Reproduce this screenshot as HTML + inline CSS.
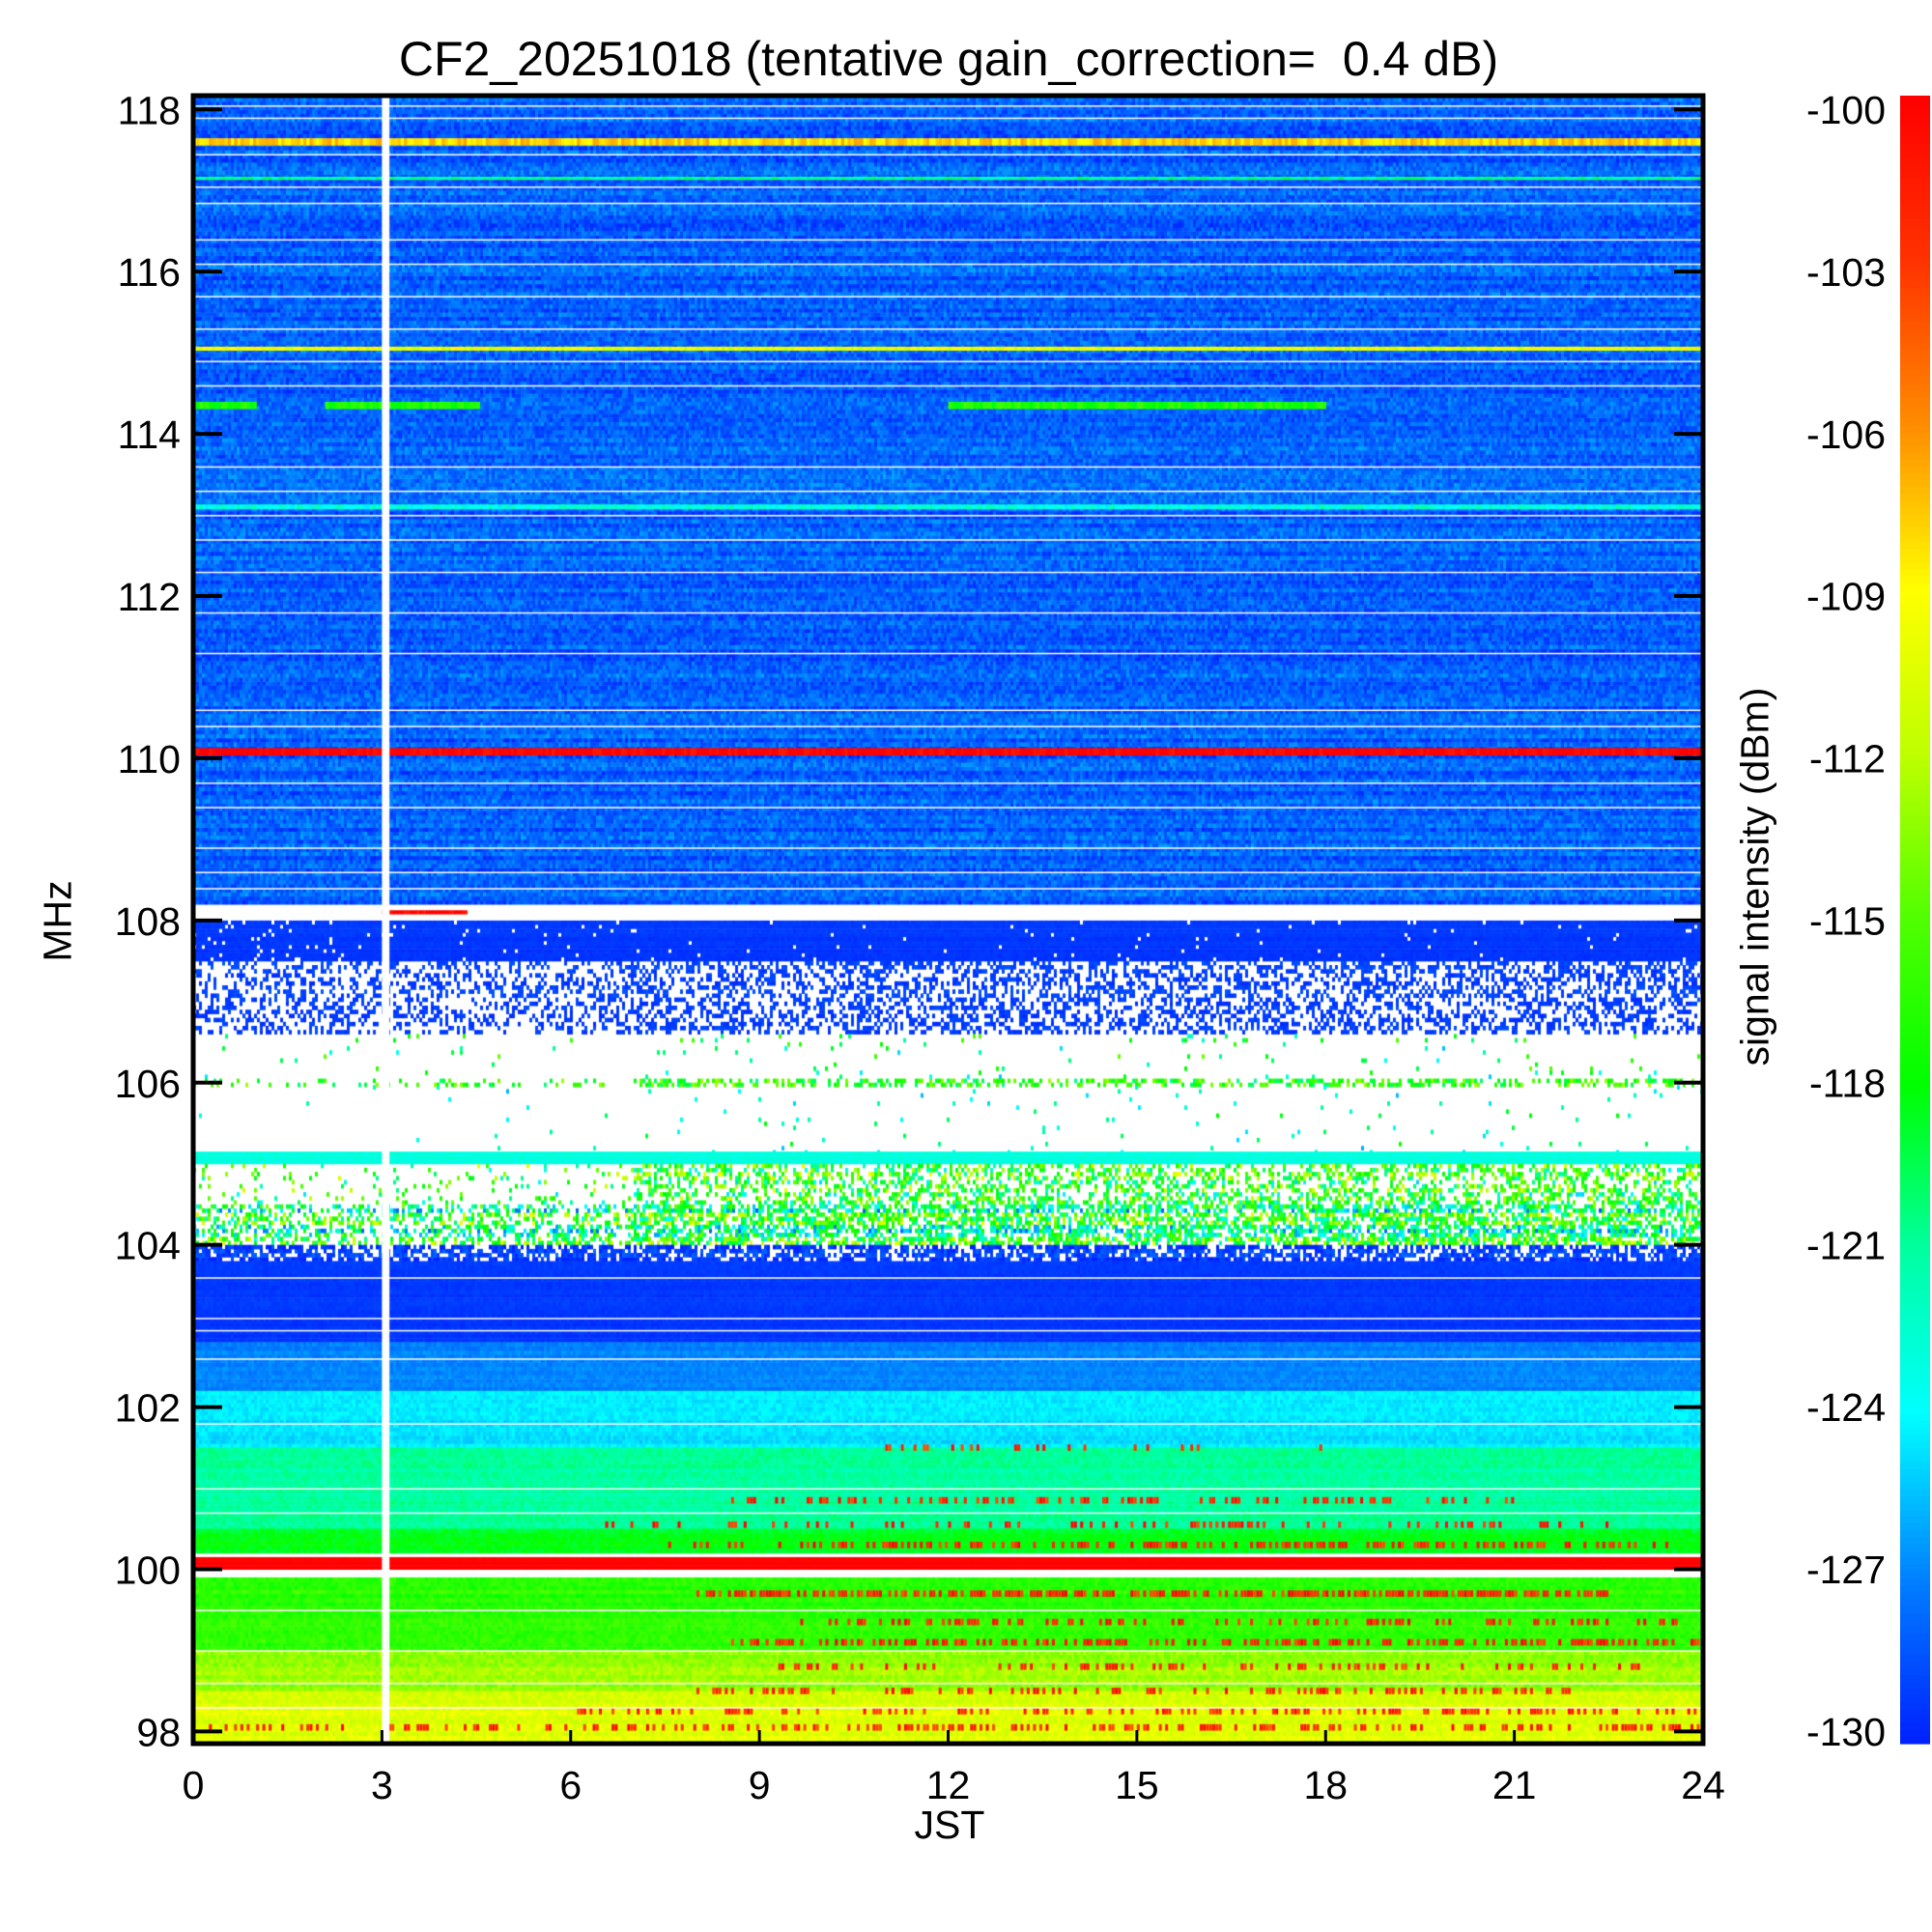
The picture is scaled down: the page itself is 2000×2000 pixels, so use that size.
<!DOCTYPE html>
<html><head><meta charset="utf-8"><style>
body{margin:0;background:#fff;}
#wrap{position:relative;width:2000px;height:2000px;font-family:"Liberation Sans",sans-serif;color:#000;}
.t{position:absolute;white-space:nowrap;}
</style></head><body>
<div id="wrap">
<div class="t" style="left:0;width:1964px;top:32px;text-align:center;font-size:50px;">CF2_20251018 (tentative gain_correction=&nbsp; 0.4 dB)</div>
<canvas id="hm" width="1563" height="1706" style="position:absolute;left:200px;top:99px;"></canvas>
<svg id="ax" width="2000" height="2000" style="position:absolute;left:0;top:0;"></svg>
<div class="t" style="left:933px;width:100px;text-align:center;top:1866px;font-size:41px;">JST</div>
<div class="t" style="left:10px;top:930px;width:100px;text-align:center;font-size:41px;transform:rotate(-90deg);">MHz</div>
<div class="t" style="left:1667px;top:930px;width:300px;text-align:center;font-size:41px;transform:rotate(-90deg);">signal intensity (dBm)</div>
</div>
<script>
// ---- data ----
const xTicks=[0,3,6,9,12,15,18,21,24];
const yTicks=[98,100,102,104,106,108,110,112,114,116,118];
const cbTicks=[-100,-103,-106,-109,-112,-115,-118,-121,-124,-127,-130];
// frequency bands (MHz) : low, high, level(dBm), noise amp, missing prob before 7h, missing prob after 7h
const bandLo   =[108.2,107.5,106.6,106.05,105.95,105.12,105.0,104.5,104.0,103.8,102.8,102.2,101.5,100.5,100.2,100.0,99.0,98.5,97.85];
const bandHi   =[118.17,108.0,107.5,106.6,106.05,105.95,105.12,105.0,104.5,104.0,103.8,102.8,102.2,101.5,100.5,100.15,99.9,99.0,98.5];
const bandLevel=[-128,-129.3,-129,-120,-116,-122,-123,-116,-119,-129,-129.3,-127,-124.5,-121,-118.5,-100,-116.5,-113,-110.5];
const bandNoise=[2.5,0.5,1,8,8,6,0.5,12,12,2,0.6,1,1.2,1.5,1.5,0.3,2,2,2];
const bandMiss =[0,0.05,0.65,0.99,0.8,0.995,0,0.9,0.55,0.3,0,0,0,0,0,0,0,0,0];
const bandMiss2=[0,0.02,0.55,0.97,0.5,0.985,0,0.55,0.35,0.3,0,0,0,0,0,0,0,0,0];
// narrow lines: freq, level, startHour, endHour
const lineFreq =[117.6,117.15,115.05,114.35,114.35,114.35,113.1,110.08,108.1];
const lineLevel=[-108,-121,-110,-117,-117,-117,-123,-100,-100];
const lineStart=[0,0,0,0,2.1,12,0,0,3.0];
const lineEnd  =[24,24,24,1.0,4.5,18,24,24,4.3];
const lineWidth=[0.09,0.04,0.05,0.09,0.09,0.09,0.06,0.09,0.05];
// red speckle rows in lower part: freq, startHour, endHour, probability
const spFreq =[101.5,100.85,100.55,100.3,99.7,99.35,99.1,98.8,98.5,98.25,98.05];
const spStart=[9,8.5,6.5,7.5,8,9.5,8.5,9,8,6,0];
const spEnd  =[18,21,22.5,23.5,22.5,24,24,23,22,24,24];
const spProb =[0.15,0.35,0.3,0.4,0.7,0.3,0.45,0.25,0.35,0.3,0.35];
const whiteGridFreq=[118.05,117.9,117.45,117.05,116.85,116.4,116.1,115.7,115.3,114.9,114.6,113.6,113.3,113.0,112.7,112.3,111.8,111.3,110.6,110.4,109.7,109.4,108.9,108.6,108.4,103.6,103.1,102.95,102.6,101.8,101.0,100.7,99.5,99.0,98.6,98.3];
// ---- axes ----
const PX0=200,PX1=1763,PY0=99,PY1=1805,FMIN=97.85,FMAX=118.17;
const xs=h=>PX0+(PX1-PX0)*h/24;
const ys=f=>PY0+(PY1-PY0)*(FMAX-f)/(FMAX-FMIN);
const cbY=v=>113+(1792-113)*(-100-v)/30;
const stops=[[-130,[0,32,255]],[-127,[0,128,255]],[-124,[0,255,255]],[-121,[0,255,160]],[-118,[0,255,0]],[-115,[80,255,0]],[-112,[190,255,0]],[-109,[255,255,0]],[-106,[255,140,0]],[-103,[255,50,0]],[-100,[255,0,0]]];
function cmap(v){v=Math.max(-130,Math.min(-100,v));for(let i=1;i<stops.length;i++){if(v<=stops[i][0]){const a=stops[i-1],b=stops[i],t=(v-a[0])/(b[0]-a[0]);return `rgb(${a[1].map((c,k)=>Math.round(c+(b[1][k]-c)*t)).join(',')})`;}}return 'rgb(255,0,0)';}
let seed=12345;function rnd(){seed=(seed*1664525+1013904223)>>>0;return seed/4294967296;}
const cv=document.getElementById('hm'),ctx=cv.getContext('2d');
ctx.fillStyle='#fff';ctx.fillRect(0,0,cv.width,cv.height);
const colW=3,rowF=0.05;
for(let b=0;b<bandLo.length;b++){
  for(let f=bandLo[b];f<bandHi[b]-1e-6;f+=rowF){
    const y0=ys(f+rowF)-PY0,y1=ys(f)-PY0;
    const rowOff=(rnd()-0.5)*bandNoise[b]*0.6;
    for(let x=0;x<cv.width;x+=colW){
      const miss=(x<xs(7)-PX0)?bandMiss[b]:bandMiss2[b];
      if(rnd()<miss)continue;
      const v=bandLevel[b]+rowOff+(rnd()-0.5)*bandNoise[b];
      ctx.fillStyle=cmap(v);ctx.fillRect(x,y0,colW,y1-y0+0.5);
    }
  }
}
for(let i=0;i<spFreq.length;i++){
  const y0=ys(spFreq[i]+0.04)-PY0,y1=ys(spFreq[i]-0.04)-PY0;
  for(let h=spStart[i];h<spEnd[i];h+=0.05){
    if(rnd()<spProb[i]){ctx.fillStyle=cmap(-100-rnd()*4);ctx.fillRect(xs(h)-PX0,y0,3,y1-y0);}
  }
}
for(let i=0;i<lineFreq.length;i++){
  const y0=ys(lineFreq[i]+lineWidth[i]/2)-PY0,y1=ys(lineFreq[i]-lineWidth[i]/2)-PY0;
  for(let h=lineStart[i];h<lineEnd[i];h+=0.05){ctx.fillStyle=cmap(lineLevel[i]+(rnd()-0.5)*3);ctx.fillRect(xs(h)-PX0,y0,4,Math.max(2,y1-y0));}
}
ctx.fillStyle='#fff';
for(const f of whiteGridFreq){ctx.fillRect(0,ys(f)-PY0,cv.width,1.5);}
ctx.fillRect(0,ys(108.05)-PY0,cv.width,4);
ctx.fillRect(xs(3.0)-PX0,0,xs(3.12)-xs(3.0),cv.height);
// svg axes
const NS='http://www.w3.org/2000/svg',svg=document.getElementById('ax');
function mk(tag,attrs,txt){const e=document.createElementNS(NS,tag);for(const k in attrs)e.setAttribute(k,attrs[k]);if(txt!==undefined)e.textContent=txt;svg.appendChild(e);return e;}
let e=mk('rect',{x:PX0,y:PY0,width:PX1-PX0,height:PY1-PY0,fill:'none',stroke:'#000','stroke-width':5});

xTicks.forEach(h=>{
  const t=mk('line',{x1:xs(h),x2:xs(h),y1:PY1,y2:PY1-14,stroke:'#000','stroke-width':3});
  
  const l=mk('text',{x:xs(h),y:1862,'text-anchor':'middle','font-size':41,'font-family':'Liberation Sans'},String(h));
  
});
yTicks.forEach(f=>{
  const t=mk('line',{x1:PX0,x2:PX0+30,y1:ys(f),y2:ys(f),stroke:'#000','stroke-width':4});
  
  const t2=mk('line',{x1:PX1,x2:PX1-30,y1:ys(f),y2:ys(f),stroke:'#000','stroke-width':4});
  
  const l=mk('text',{x:187,y:ys(f)+15,'text-anchor':'end','font-size':41,'font-family':'Liberation Sans'},String(f));
  
});
// colorbar
const CB0=99,CB1=1805;
for(let i=0;i<240;i++){
  const v=-100-30*(i+0.5)/240;
  const y=CB0+(CB1-CB0)*i/240;
  const r=mk('rect',{x:1967,y:y,width:31,height:(CB1-CB0)/240+0.6,fill:cmap(v)});
  
}
cbTicks.forEach(v=>{
  const l=mk('text',{x:1952,y:cbY(v)+15,'text-anchor':'end','font-size':41,'font-family':'Liberation Sans'},String(v));
  
});
</script>
</body></html>
